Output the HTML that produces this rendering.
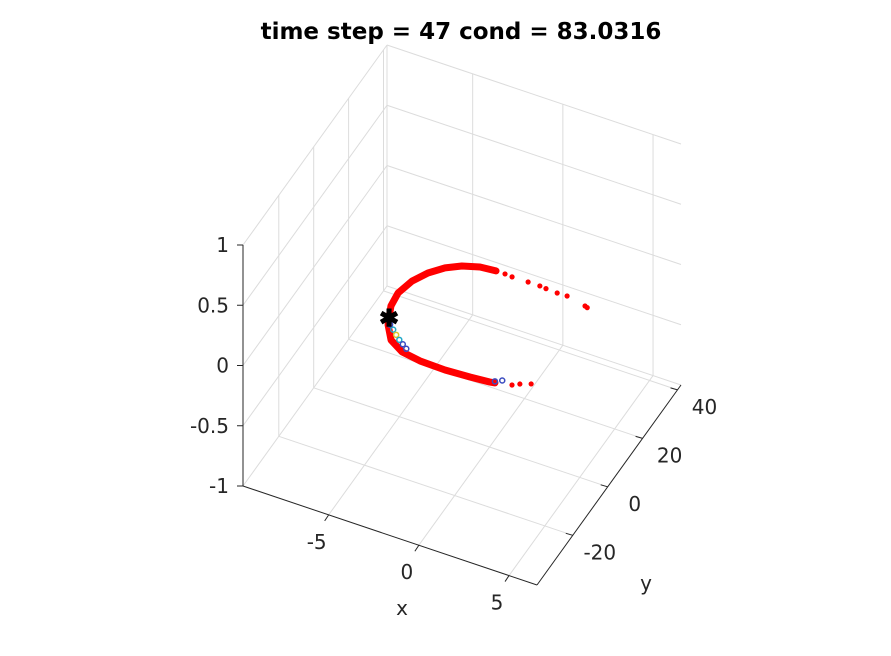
<!DOCTYPE html>
<html><head><meta charset="utf-8"><style>
html,body{margin:0;padding:0;background:#fff;}
svg{display:block;font-family:"DejaVu Sans","Liberation Sans",sans-serif;}
</style></head><body>
<svg id="chart" width="891" height="656" viewBox="0 0 891 656">
<rect x="0" y="0" width="891" height="656" fill="#fff"/>
<text x="461" y="39" text-anchor="middle" font-size="23" font-weight="bold" fill="#000">time step = 47 cond = 83.0316</text>
<g id="grid"></g>
<g id="axes"></g>
<g id="marks"></g>
<text x="402" y="615" text-anchor="middle" font-size="20" fill="#262626">x</text>
<text x="646" y="590" text-anchor="middle" font-size="20" fill="#262626">y</text>
</svg>
<script>
const xTicks=[-5,0,5];
const yTicks=[-20,0,20,40];
const zTicks=[-1,-0.5,0,0.5,1];
const zTickLabels=["-1","-0.5","0","0.5","1"];
// main red curve (x, y, z)
const curveX=[-1.5,-2.34,-3.18,-3.87,-4.47,-4.92,-5.16,-5.06,-4.76,-4.58,-3.96,-3.09,-2.0,-0.59,0.75,1.8,2.05];
const curveY=[19.2,18.7,17.0,14.5,10.9,6.4,0.9,-4.2,-8.4,-10.8,-15.5,-18.2,-19.2,-19.4,-18.95,-18.4,-18.1];
const curveZ=[0,0,0,0,0,0,0,0,0,0,0,0,0,0,0,0,0];
// scattered red dots
const dotX=[-1.0,-0.59,0.29,0.94,1.3,1.94,2.48,3.6,3.75,2.88,3.2,3.7];
const dotY=[19.2,19.0,19.1,19.1,18.9,18.7,18.8,17.5,17.2,-16.9,-15.7,-14.4];
const dotZ=[0,0,0,0,0,0,0,0,0,0,0,0];
// blue/cyan/yellow markers
const markX=[-4.5,-4.2,-3.9,-3.6,-3.3,-3.0,2.0,2.3];
const markY=[-10.5,-11.8,-13.2,-14.5,-15.6,-16.7,-17.6,-16.5];
const markZ=[0,0,0,0,0,0,0,0];
const markC=["#3b4cc0","#21a8c8","#d9c72a","#21a8c8","#3b4cc0","#3b4cc0","#3b4cc0","#3b4cc0"];
// black star
const starX=[-4.76], starY=[-8.4], starZ=[0];

const xmin=-9.75,xmax=6.55,ymin=-40.5,ymax=42,zmin=-1,zmax=1;
const O=[243,486],EX=[294,99],EY=[144,-200],EZ=[0,-241];
function P(x,y,z){
  const u=(x-xmin)/(xmax-xmin),v=(y-ymin)/(ymax-ymin),w=(z-zmin)/(zmax-zmin);
  return [O[0]+u*EX[0]+v*EY[0]+w*EZ[0], O[1]+u*EX[1]+v*EY[1]+w*EZ[1]];
}
const NS="http://www.w3.org/2000/svg";
function line(g,a,b,col,w,name){
  const l=document.createElementNS(NS,'line');
  l.setAttribute('x1',a[0]);l.setAttribute('y1',a[1]);l.setAttribute('x2',b[0]);l.setAttribute('y2',b[1]);
  l.setAttribute('stroke',col);l.setAttribute('stroke-width',w);
  
  
  g.appendChild(l);
}
function text(g,x,y,s,anchor,name){
  const t=document.createElementNS(NS,'text');
  t.setAttribute('x',x);t.setAttribute('y',y);t.setAttribute('text-anchor',anchor);
  t.setAttribute('font-size','20');t.setAttribute('fill','#262626');t.textContent=s;
  
  
  g.appendChild(t);
}
const grid=document.getElementById('grid'),axes=document.getElementById('axes'),marks=document.getElementById('marks');
const gc="#dcdcdc";
xTicks.forEach(x=>line(grid,P(x,ymin,zmin),P(x,ymax,zmin),gc,1,'floor-grid-x'));
yTicks.forEach(y=>line(grid,P(xmin,y,zmin),P(xmax,y,zmin),gc,1,'floor-grid-y'));
zTicks.forEach(z=>line(grid,P(xmin,ymin,z),P(xmin,ymax,z),gc,1,'left-wall-grid-z'));
yTicks.forEach(y=>line(grid,P(xmin,y,zmin),P(xmin,y,zmax),gc,1,'left-wall-grid-y'));
zTicks.forEach(z=>line(grid,P(xmin,ymax,z),P(xmax,ymax,z),gc,1,'back-wall-grid-z'));
xTicks.forEach(x=>line(grid,P(x,ymax,zmin),P(x,ymax,zmax),gc,1,'back-wall-grid-x'));
line(grid,P(xmin,ymax,zmin),P(xmin,ymax,zmax),gc,1,'back-edge');
line(axes,P(xmin,ymin,zmin),P(xmin,ymin,zmax),'#262626',1,'z-axis-line');
line(axes,P(xmin,ymin,zmin),P(xmax,ymin,zmin),'#262626',1,'x-axis-line');
line(axes,P(xmax,ymin,zmin),P(xmax,ymax,zmin),'#262626',1,'y-axis-line');
zTicks.forEach((z,i)=>{const p=P(xmin,ymin,z);line(axes,[p[0]-6,p[1]],p,'#262626',1,'z-tick');
  text(axes,p[0]-14,p[1]+7,zTickLabels[i],'end','z-tick-label');});
xTicks.forEach(x=>{const p=P(x,ymin,zmin);line(axes,p,[p[0]-4,p[1]+6],'#262626',1,'x-tick');
  text(axes,p[0]-12,p[1]+34,String(x),'middle','x-tick-label');});
yTicks.forEach(y=>{const p=P(xmax,y,zmin);line(axes,p,[p[0]-7,p[1]-2],'#262626',1,'y-tick');
  text(axes,p[0]+27,p[1]+24,String(y),'middle','y-tick-label');});
const pts=curveX.map((x,i)=>P(x,curveY[i],curveZ[i]).join(',')).join(' ');
const pl=document.createElementNS(NS,'polyline');
pl.setAttribute('points',pts);pl.setAttribute('fill','none');pl.setAttribute('stroke','#ff0000');
pl.setAttribute('stroke-width','7');pl.setAttribute('stroke-linecap','round');pl.setAttribute('stroke-linejoin','round');


marks.appendChild(pl);
markX.forEach((x,i)=>{const p=P(x,markY[i],markZ[i]);const c=document.createElementNS(NS,'circle');
  c.setAttribute('cx',p[0]);c.setAttribute('cy',p[1]);c.setAttribute('r',2.5);c.setAttribute('fill','none');
  c.setAttribute('stroke',markC[i]);c.setAttribute('stroke-width',1.5);
  
  
  marks.appendChild(c);});
dotX.forEach((x,i)=>{const p=P(x,dotY[i],dotZ[i]);const c=document.createElementNS(NS,'circle');
  c.setAttribute('cx',p[0]);c.setAttribute('cy',p[1]);c.setAttribute('r',2.6);c.setAttribute('fill','#ff0000');
  
  
  marks.appendChild(c);});
starX.forEach((x,i)=>{const p=P(x,starY[i],starZ[i]);const t=document.createElementNS(NS,'text');
  t.setAttribute('x',p[0]);t.setAttribute('y',p[1]+8);t.setAttribute('text-anchor','middle');
  t.setAttribute('font-size','23');t.setAttribute('font-weight','bold');t.setAttribute('fill','#000');
  t.setAttribute('stroke','#000');t.setAttribute('stroke-width','1.5');t.textContent='✱';
  
  
  marks.appendChild(t);});
</script>
</body></html>
